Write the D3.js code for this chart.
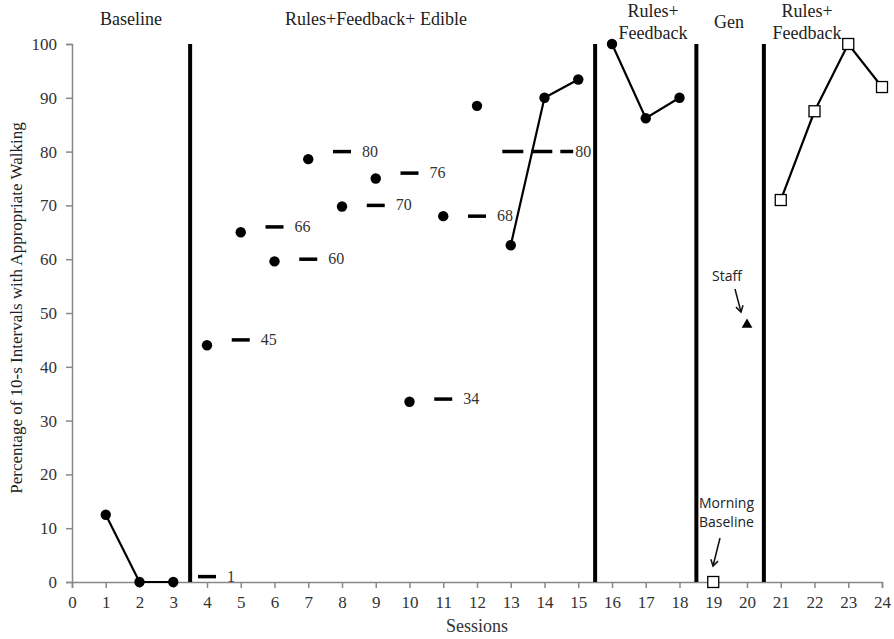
<!DOCTYPE html>
<html>
<head>
<meta charset="utf-8">
<script src="https://cdn.jsdelivr.net/npm/d3@7"></script>
<style>
  body { margin: 0; background: #fff; }
  svg { display: block; }
</style>
</head>
<body>
<div id="chart"></div>
<script>
const WIDTH = 894
const HEIGHT = 639
const MARGIN = { TOP: 44, RIGHT: 12, BOTTOM: 57, LEFT: 72 }

// baseline
const baseSessions = [1, 2, 3]
const baseValues = [12.5, 0, 0]
// rules+feedback+edible, unconnected dots
const edibleSessions = [4, 5, 6, 7, 8, 9, 10, 11, 12]
const edibleValues = [44, 65, 59.6, 78.6, 69.8, 75, 33.5, 68, 88.5]
// rules+feedback+edible, connected
const edibleLineSessions = [13, 14, 15]
const edibleLineValues = [62.6, 90, 93.4]
// short dash marks with value labels
const markSessions = [4, 5, 6, 7, 8, 9, 10, 11, 12]
const markValues = [1, 45, 66, 60, 80, 70, 76, 34, 68]
// dashed criterion line
const critFrom = 12.75
const critTo = 14.85
const critValue = 80
// rules+feedback
const rfSessions = [16, 17, 18]
const rfValues = [100, 86.2, 90]
// generalization
const genMorningSession = 19
const genMorningValue = 0
const genStaffSession = 20
const genStaffValue = 48
// rules+feedback 2
const rf2Sessions = [21, 22, 23, 24]
const rf2Values = [71, 87.5, 100, 92]

const phaseLines = [3.5, 15.5, 18.5, 20.5]
const phaseLabels = [
    { x: 131, lines: ["Baseline"], y: 25 },
    { x: 376, lines: ["Rules+Feedback+ Edible"], y: 25 },
    { x: 653, lines: ["Rules+", "Feedback"], y: 17 },
    { x: 729, lines: ["Gen"], y: 28 },
    { x: 807, lines: ["Rules+", "Feedback"], y: 17 }
]

const svg = d3.select("#chart")
    .append("svg")
    .attr("width", WIDTH)
    .attr("height", HEIGHT)

const x = d3.scaleLinear()
    .domain([0, 24])
    .range([MARGIN.LEFT, WIDTH - MARGIN.RIGHT])

const y = d3.scaleLinear()
    .domain([0, 100])
    .range([HEIGHT - MARGIN.BOTTOM, MARGIN.TOP])

const serif = "'Liberation Serif', 'Times New Roman', serif"
const sans = "'Open Sans', 'Noto Sans', sans-serif"

// axes
const xAxis = svg.append("g")
    .attr("transform", `translate(0, ${y(0)})`)
    .call(d3.axisBottom(x).tickValues(d3.range(0, 25)).tickSizeOuter(0).tickSize(6).tickPadding(8))
const yAxis = svg.append("g")
    .attr("transform", `translate(${x(0)}, 0)`)
    .call(d3.axisLeft(y).tickValues(d3.range(0, 101, 10)).tickSizeOuter(0).tickSize(6).tickPadding(9))

for (const ax of [xAxis, yAxis]) {
    ax.select(".domain").attr("stroke", "#888").attr("stroke-width", 1.5)
    ax.selectAll(".tick line").attr("stroke", "#888").attr("stroke-width", 1.5)
    ax.selectAll(".tick text")
        .attr("font-family", serif)
        .attr("font-size", 17)
        .attr("fill", "#333")
}

svg.append("text")
    .attr("x", 477)
    .attr("y", 632)
    .attr("text-anchor", "middle")
    .attr("font-family", serif)
    .attr("font-size", 18)
    .attr("fill", "#333")
    .text("Sessions")

svg.append("text")
    .attr("transform", `translate(22, 308) rotate(-90)`)
    .attr("text-anchor", "middle")
    .attr("font-family", serif)
    .attr("font-size", 17)
    .attr("fill", "#222")
    .text("Percentage of 10-s Intervals with Appropriate Walking")

// phase change lines
svg.append("g")
    .selectAll("line")
    .data(phaseLines)
    .join("line")
    .attr("x1", d => x(d))
    .attr("x2", d => x(d))
    .attr("y1", y(100))
    .attr("y2", y(0))
    .attr("stroke", "#000")
    .attr("stroke-width", 4)

// phase labels
svg.append("g")
    .attr("font-family", serif)
    .attr("font-size", 18)
    .attr("fill", "#222")
    .attr("text-anchor", "middle")
    .selectAll("text")
    .data(phaseLabels)
    .join("text")
    .attr("x", d => d.x)
    .attr("y", d => d.y)
    .each(function (d) {
        d3.select(this).selectAll("tspan")
            .data(d.lines)
            .join("tspan")
            .attr("x", d.x)
            .attr("dy", (t, i) => i === 0 ? 0 : 22)
            .text(t => t)
    })

const line = d3.line()
    .x(d => x(d[0]))
    .y(d => y(d[1]))

const zip = (a, b) => a.map((s, i) => [s, b[i]])

const connected = [
    zip(baseSessions, baseValues),
    zip(edibleLineSessions, edibleLineValues),
    zip(rfSessions, rfValues),
    zip(rf2Sessions, rf2Values)
]

svg.append("g")
    .selectAll("path")
    .data(connected)
    .join("path")
    .attr("d", line)
    .attr("fill", "none")
    .attr("stroke", "#000")
    .attr("stroke-width", 2.2)

// dash marks
const marks = zip(markSessions, markValues)
svg.append("g")
    .selectAll("line")
    .data(marks)
    .join("line")
    .attr("x1", d => x(d[0]) - 9)
    .attr("x2", d => x(d[0]) + 9)
    .attr("y1", d => y(d[1]))
    .attr("y2", d => y(d[1]))
    .attr("stroke", "#000")
    .attr("stroke-width", 3.5)

svg.append("g")
    .attr("font-family", serif)
    .attr("font-size", 16)
    .attr("fill", "#333")
    .selectAll("text")
    .data(marks)
    .join("text")
    .attr("x", d => x(d[0]) + 20)
    .attr("y", d => y(d[1]) + 5)
    .text(d => d[1])

// criterion dashed line
svg.append("line")
    .attr("x1", x(critFrom))
    .attr("x2", x(critTo))
    .attr("y1", y(critValue))
    .attr("y2", y(critValue))
    .attr("stroke", "#000")
    .attr("stroke-width", 3.5)
    .attr("stroke-dasharray", "21 8")
svg.append("text")
    .attr("x", x(critTo) + 2)
    .attr("y", y(critValue) + 5)
    .attr("font-family", serif)
    .attr("font-size", 16)
    .attr("fill", "#333")
    .text(critValue)

// filled dots
const dots = [].concat(
    zip(baseSessions, baseValues),
    zip(edibleSessions, edibleValues),
    zip(edibleLineSessions, edibleLineValues),
    zip(rfSessions, rfValues)
)
svg.append("g")
    .selectAll("circle")
    .data(dots)
    .join("circle")
    .attr("cx", d => x(d[0]))
    .attr("cy", d => y(d[1]))
    .attr("r", 5.2)
    .attr("fill", "#000")

// open squares
const squares = [[genMorningSession, genMorningValue]].concat(zip(rf2Sessions, rf2Values))
svg.append("g")
    .selectAll("rect")
    .data(squares)
    .join("rect")
    .attr("x", d => x(d[0]) - 5.5)
    .attr("y", d => y(d[1]) - 5.5)
    .attr("width", 11)
    .attr("height", 11)
    .attr("fill", "#fff")
    .attr("stroke", "#000")
    .attr("stroke-width", 1.3)

// staff triangle
svg.append("path")
    .attr("d", d3.symbol(d3.symbolTriangle, 50)())
    .attr("transform", `translate(${x(genStaffSession)}, ${y(genStaffValue) + 1})`)
    .attr("fill", "#000")

// annotations
svg.append("text")
    .attr("x", 727)
    .attr("y", 281)
    .attr("text-anchor", "middle")
    .attr("font-family", sans)
    .attr("font-size", 14)
    .attr("fill", "#222")
    .text("Staff")

svg.append("text")
    .attr("x", 699)
    .attr("y", 508)
    .attr("font-family", sans)
    .attr("font-size", 14)
    .attr("fill", "#222")
    .selectAll("tspan")
    .data(["Morning", "Baseline"])
    .join("tspan")
    .attr("x", 699)
    .attr("dy", (t, i) => i === 0 ? 0 : 19)
    .text(t => t)

const arrows = [
    { x1: 735, y1: 289, x2: 741, y2: 312 },
    { x1: 720, y1: 538, x2: 713, y2: 566 }
]
const arrowG = svg.append("g")
    .attr("stroke", "#111")
    .attr("stroke-width", 1.5)
    .attr("fill", "none")
arrows.forEach(a => {
    arrowG.append("line")
        .attr("x1", a.x1).attr("y1", a.y1)
        .attr("x2", a.x2).attr("y2", a.y2)
    const ang = Math.atan2(a.y2 - a.y1, a.x2 - a.x1)
    const len = 7
    const spread = 0.55
    arrowG.append("path")
        .attr("d", `M${a.x2 - len * Math.cos(ang - spread)},${a.y2 - len * Math.sin(ang - spread)}` +
            `L${a.x2},${a.y2}` +
            `L${a.x2 - len * Math.cos(ang + spread)},${a.y2 - len * Math.sin(ang + spread)}`)
})
</script>
</body>
</html>
